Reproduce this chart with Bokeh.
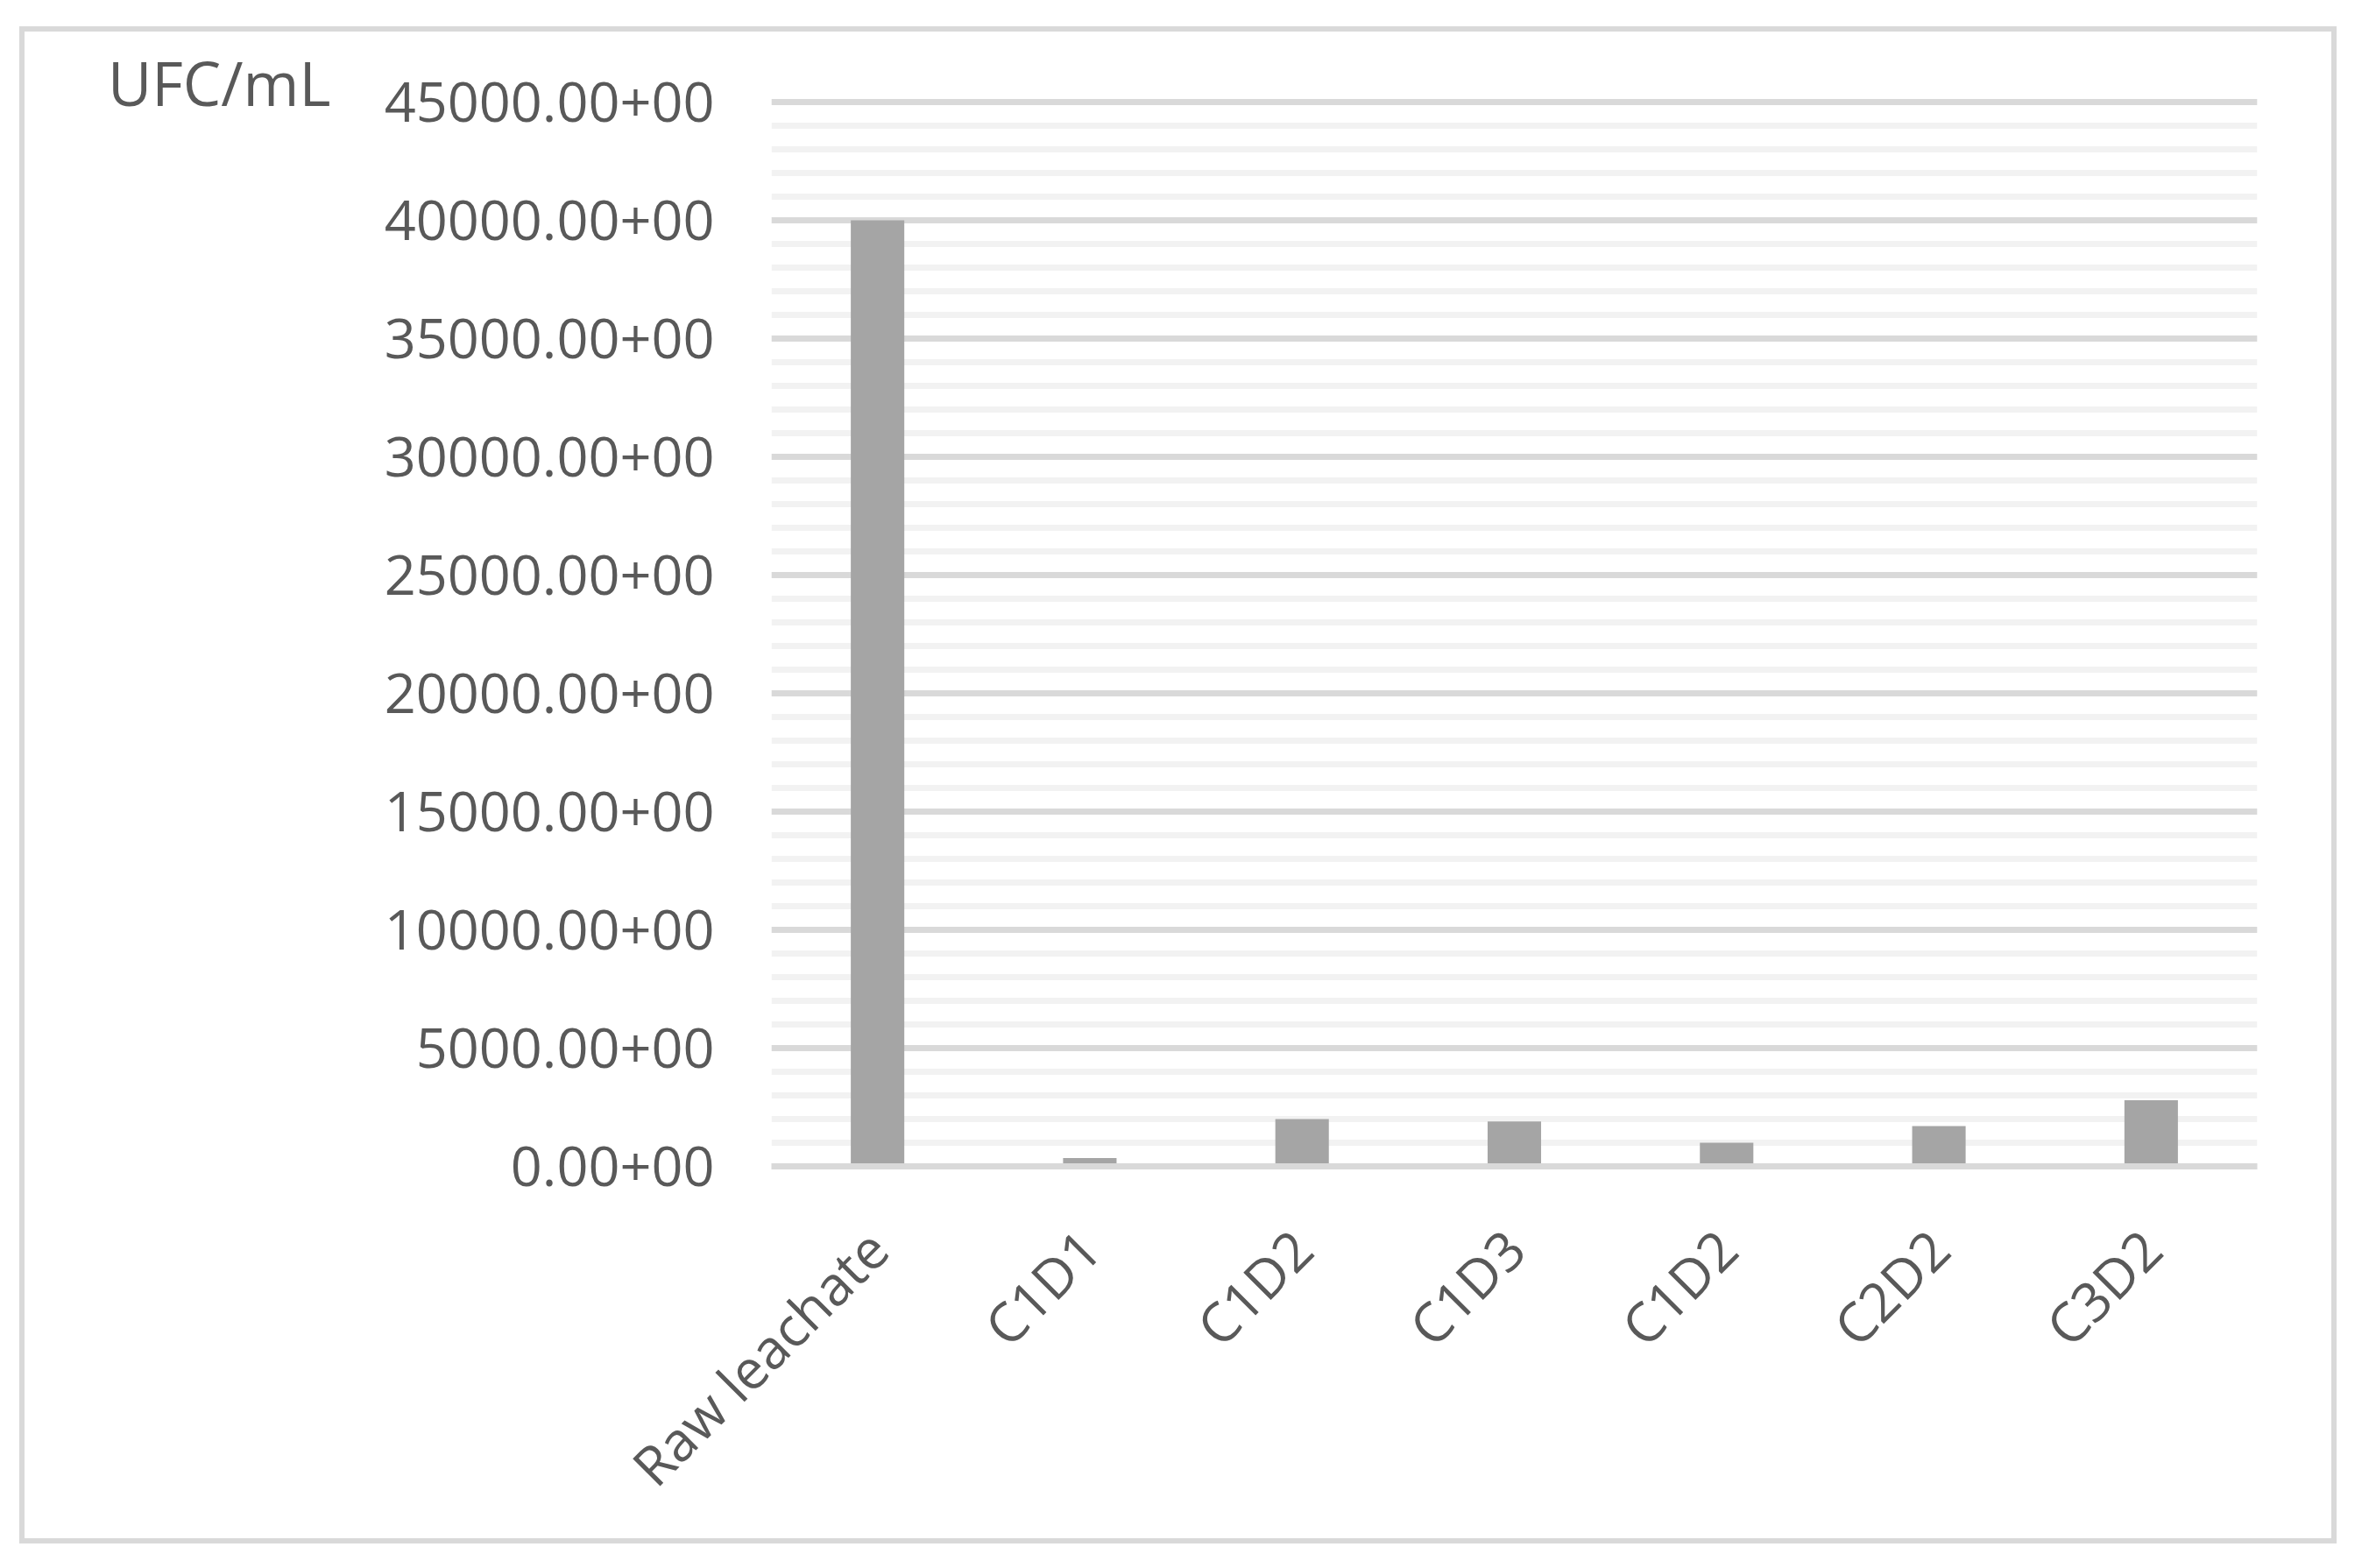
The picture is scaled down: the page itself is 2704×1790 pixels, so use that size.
import math
from bokeh.plotting import figure
from bokeh.models import (Range1d, SingleIntervalTicker, FixedTicker,
                          PrintfTickFormatter, LinearAxis)
from bokeh.embed import file_html
from bokeh.resources import INLINE

# ---- data ----
categories = ["Raw leachate", "C1D1", "C1D2", "C1D3", "C1D2", "C2D2", "C3D2"]
values = [40000, 350, 2000, 1900, 1000, 1700, 2800]
y_unit_label = "UFC/mL"
y_unit_label_pos = 45830
y_tick_interval = 5000

TEXT = "#595959"
FONT = "Open Sans"

x = list(range(len(categories)))

W, H = 2633, 1720
p = figure(width=W, height=H, output_backend="svg", toolbar_location=None,
           x_range=Range1d(-0.5, len(categories) - 0.5),
           y_range=Range1d(0, 47074),
           min_border_left=852, min_border_right=97,
           min_border_top=24, min_border_bottom=437,
           background_fill_color="white", border_fill_color="white")
p.outline_line_color = None
p.styles = {"border": "6px solid #d9d9d9", "box-sizing": "content-box",
            "margin-left": "22px", "margin-top": "30px"}

p.vbar(x=x, top=values, bottom=0, width=0.252,
       fill_color="#a5a5a5", line_color=None)

# y axis
ticker = SingleIntervalTicker(interval=y_tick_interval, num_minor_ticks=5)
p.yaxis.ticker = ticker
p.yaxis.formatter = PrintfTickFormatter(format="%.2f+00")
p.yaxis.axis_line_color = None
p.yaxis.major_tick_line_color = None
p.yaxis.minor_tick_line_color = None
p.yaxis.major_tick_out = 0
p.yaxis.major_tick_in = 0
p.yaxis.major_label_standoff = 61
p.yaxis.major_label_text_font = FONT
p.yaxis.major_label_text_font_size = "63px"
p.yaxis.major_label_text_color = TEXT

# unit label as an extra left axis with a single labelled tick
unit_axis = LinearAxis(ticker=FixedTicker(ticks=[y_unit_label_pos]),
                       major_label_overrides={y_unit_label_pos: y_unit_label})
unit_axis.axis_line_color = None
unit_axis.major_tick_line_color = None
unit_axis.minor_tick_line_color = None
unit_axis.major_tick_out = 0
unit_axis.major_tick_in = 0
unit_axis.major_label_standoff = 58
unit_axis.major_label_text_font = FONT
unit_axis.major_label_text_font_size = "69px"
unit_axis.major_label_text_color = TEXT
p.add_layout(unit_axis, "left")

p.ygrid.ticker = ticker
p.ygrid.grid_line_color = "#d9d9d9"
p.ygrid.grid_line_width = 7
p.ygrid.minor_grid_line_color = "#f2f2f2"
p.ygrid.minor_grid_line_width = 7
p.ygrid.bounds = (0, 45000)
p.xgrid.grid_line_color = None

# x axis
p.xaxis.ticker = FixedTicker(ticks=x)
p.xaxis.major_label_overrides = {i: c for i, c in zip(x, categories)}
p.xaxis.major_label_orientation = math.pi / 4
p.xaxis.axis_line_color = "#d9d9d9"
p.xaxis.axis_line_width = 7
p.xaxis.major_tick_line_color = None
p.xaxis.minor_tick_line_color = None
p.xaxis.major_tick_out = 0
p.xaxis.major_tick_in = 0
p.xaxis.major_label_standoff = 83
p.xaxis.major_label_text_font = FONT
p.xaxis.major_label_text_font_size = "62px"
p.xaxis.major_label_text_color = TEXT

open("out.html", "w").write(file_html(p, INLINE))
